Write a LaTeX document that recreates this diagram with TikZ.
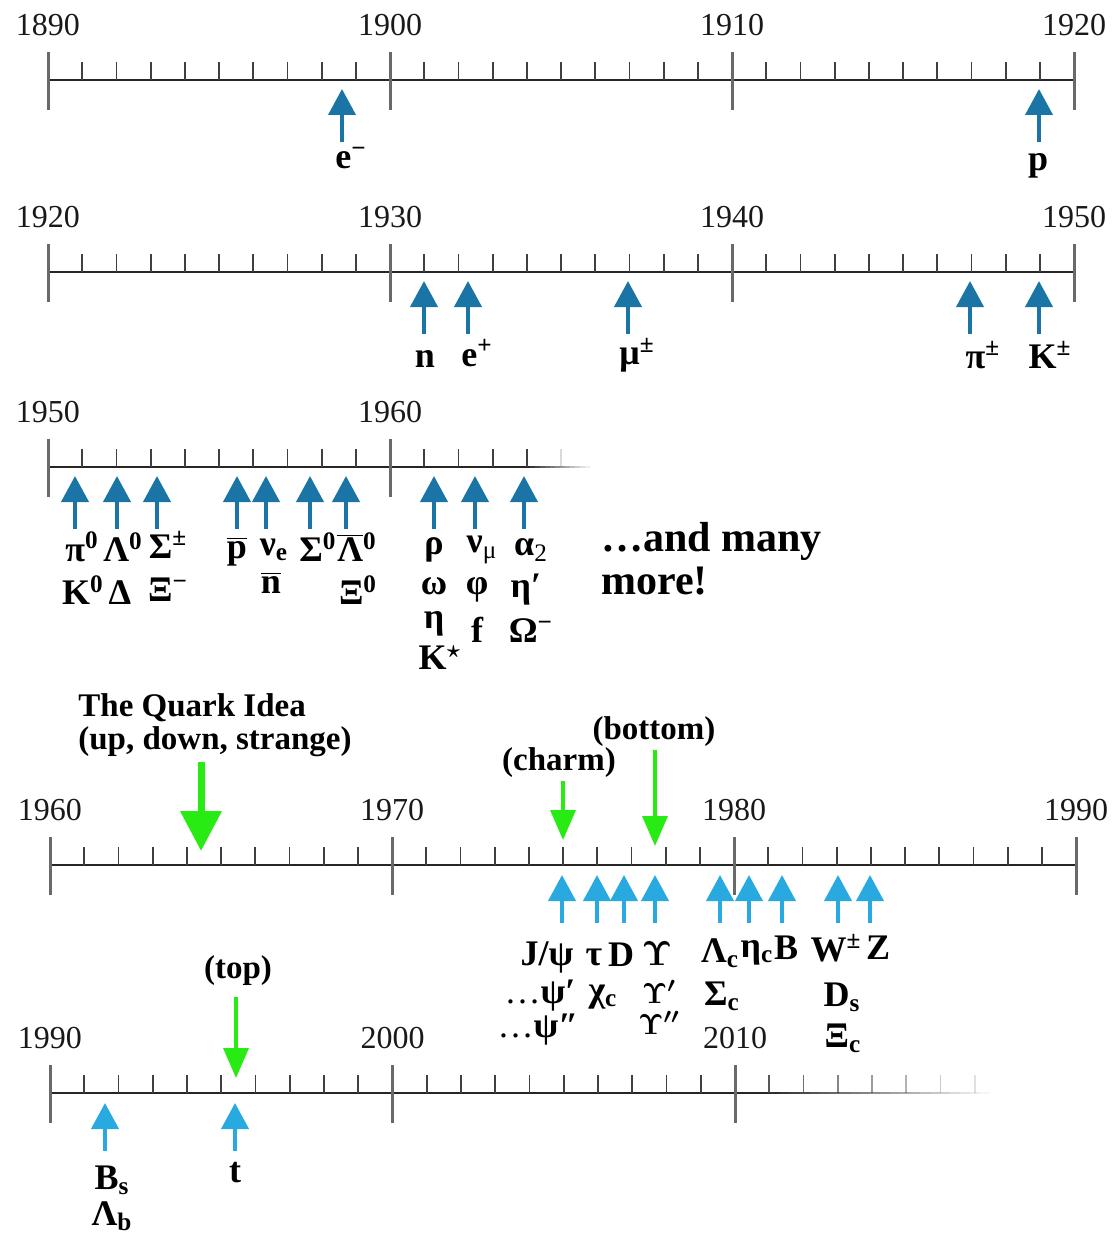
\documentclass[tikz,border=0pt]{standalone}
\usepackage{fontspec}
\setmainfont{Liberation Serif}
\usetikzlibrary{arrows.meta}

\definecolor{gristick}{RGB}{105,105,105}
\definecolor{azulosc}{RGB}{26,116,166}
\definecolor{azulcl}{RGB}{40,170,225}
\definecolor{verdef}{RGB}{40,235,20}

\tikzset{
  eje/.style={line width=1pt, draw=black!85},
  mayor/.style={line width=1.5pt, draw=gristick},
  menor/.style={line width=0.9pt, draw=black!75},
  anio/.style={font=\fontsize{16}{18}\selectfont, text=black!90, inner sep=0pt},
  part/.style={font=\fontsize{18}{20}\selectfont\bfseries\boldmath, inner sep=0pt},
  ypsilon/.style={font=\fontsize{#1}{20}\selectfont\boldmath, inner sep=0pt},
  titulo/.style={font=\fontsize{16.5}{19}\selectfont\bfseries, inner sep=0pt},
  grande/.style={font=\fontsize{21}{24}\selectfont\bfseries, inner sep=0pt},
  flecha/.style={line width=2pt, -{Triangle[length=13pt,width=13.5pt]}},
  verde/.style={draw=verdef, line width=1.8pt, -{Triangle[length=15pt,width=12.5pt]}},
  gruesa/.style={draw=verdef, line width=3.5pt, -{Triangle[length=20pt,width=20pt]}},
}

\begin{document}
\begin{tikzpicture}[x=0.5pt, y=-0.5pt]
  \useasboundingbox (0,0) rectangle (1115,1236);

  % Ejes completos: 1890-1920, 1920-1950, 1960-1990
  \foreach \Y/\xo/\a in {80/48/1890, 272/48/1920, 865/50/1960}{
    \draw[eje] (\xo,\Y) -- ({\xo+1026},\Y);
    \foreach \i in {1,...,29}
      \draw[menor] ({\xo+34.2*\i},{\Y-18}) -- ({\xo+34.2*\i},\Y);
    \foreach \k in {0,...,3}{
      \pgfmathtruncatemacro{\yr}{\a+10*\k}
      \draw[mayor] ({\xo+342*\k},{\Y-28}) -- ({\xo+342*\k},{\Y+30});
      \node[anio] (y\yr-\Y) at ({\xo+342*\k},{\Y-55}) {\yr};
    }
  }

  % Eje 1950-1965 (se desvanece)
  \draw[eje] (48,467) -- (530,467);
  \foreach \j in {0,...,11}{
    \pgfmathsetmacro{\op}{1-(\j+1)/13}
    \draw[eje, opacity=\op] ({530+5*\j},467) -- ({535+5*\j},467);
  }
  \foreach \i in {1,...,14}
    \draw[menor] ({48+34.2*\i},449) -- ({48+34.2*\i},467);
  \draw[menor, opacity=0.2] ({48+34.2*15},449) -- ({48+34.2*15},467);
  \foreach \k/\yr in {0/1950, 1/1960}{
    \draw[mayor] ({48+342*\k},439) -- ({48+342*\k},497);
    \node[anio] (y\yr-467) at ({48+342*\k},412) {\yr};
  }

  % Eje 1990-2017 (se desvanece)
  \draw[eje] (50,1093) -- (770,1093);
  \foreach \j in {0,...,21}{
    \pgfmathsetmacro{\op}{1-(\j+1)/23}
    \draw[eje, opacity=\op] ({770+10*\j},1093) -- ({780+10*\j},1093);
  }
  \foreach \i in {1,...,27}{
    \pgfmathsetmacro{\op}{min(1,1-(\i-20)*0.12)}
    \draw[menor, opacity=\op] ({50+34.25*\i},1075) -- ({50+34.25*\i},1093);
  }
  \foreach \k/\yr in {0/1990, 1/2000, 2/2010}{
    \draw[mayor] ({50+342.5*\k},1065) -- ({50+342.5*\k},1123);
    \node[anio] (y\yr-1093) at ({50+342.5*\k},1038) {\yr};
  }

  % Flechas azules (1890-1967)
  \foreach \x/\Y/\n in {342/80/e, 1039/80/p, 424/272/n, 468/272/ep,
      628/272/mu, 970/272/pi, 1039/272/K, 75/467/a, 117/467/b, 157/467/c,
      237/467/d, 266/467/f, 310/467/g, 346/467/h, 434/467/i, 475/467/j,
      524/467/k}{
    \coordinate (cola\n) at (\x,{\Y+62});
    \coordinate (punta\n) at (\x,{\Y+9});
    \draw[flecha, azulosc] (cola\n) -- (punta\n);
  }

  % Flechas celestes (1974-1995)
  \foreach \x/\Y/\n in {562/865/jpsi, 597/865/tau, 624/865/D, 655/865/ups,
      720/865/lc, 749/865/etac, 782/865/B, 838/865/W, 870/865/Z,
      105/1093/bs, 235/1093/t}{
    \coordinate (cola\n) at (\x,{\Y+58});
    \coordinate (punta\n) at (\x,{\Y+10});
    \draw[flecha, azulcl] (cola\n) -- (punta\n);
  }

  % Quarks (flechas verdes)
  \coordinate (colaQ) at (201,762);
  \coordinate (puntaQ) at (201,851);
  \draw[gruesa] (colaQ) -- (puntaQ);
  \foreach \x/\a/\b/\n in {563/781/840/charm, 655/750/846/bottom, 236/997/1078/top}{
    \coordinate (colaV\n) at (\x,\a);
    \coordinate (puntaV\n) at (\x,\b);
    \draw[verde] (colaV\n) -- (puntaV\n);
  }
  \node[titulo, anchor=base west] (idea) at (78,716) {The Quark Idea};
  \node[titulo, anchor=base west] (uds) at (78,749) {(up, down, strange)};
  \node[titulo, anchor=base] (charm) at (559,770) {(charm)};
  \node[titulo, anchor=base] (bottom) at (654,739) {(bottom)};
  \node[titulo, anchor=base] (top) at (238,978) {(top)};

  % Particulas 1890-1950
  \node[part] (le) at (351,158) {e\textsuperscript{−}};
  \node[part] (lp) at (1038,166) {p};
  \node[part] (ln) at (425,359) {n};
  \node[part] (lep) at (477,353) {e\textsuperscript{+}};
  \node[part] (lmu) at (637,355) {μ\textsuperscript{±}};
  \node[part] (lpi) at (983,355) {π\textsuperscript{±}};
  \node[part] (lK) at (1050,355) {K\textsuperscript{±}};

  % Particulas 1950-1965
  \node[part] (lpi0) at (82,547) {π\textsuperscript{0}};
  \node[part] (lK0) at (83,590) {K\textsuperscript{0}};
  \node[part] (lL0) at (123,547) {Λ\textsuperscript{0}};
  \node[part] (lD) at (120,593) {Δ};
  \node[part] (lS) at (168,545) {Σ\textsuperscript{±}};
  \node[part] (lX) at (168,590) {Ξ\textsuperscript{−}};
  \node[part] (lpb) at (237,552) {$\overline{\hbox{p}}$};
  \node[part] (lnue) at (274,550) {ν\textsubscript{e}};
  \node[part] (lnb) at (271,583) {$\overline{\hbox{n}}$};
  \node[part] (lS0) at (318,547) {Σ\textsuperscript{0}};
  \node[part] (lLb) at (357,547) {$\overline{\hbox{Λ}}$\textsuperscript{0}};
  \node[part] (lX0) at (358,590) {Ξ\textsuperscript{0}};
  \node[part] (lrho) at (434,550) {ρ};
  \node[part] (lome) at (434,586) {ω};
  \node[part] (leta) at (434,624) {η};
  \node[part] (lKs) at (440,658) {K\textsuperscript{$\star$}};
  \node[part] (lnum) at (482,550) {ν\textsubscript{\mdseries μ}};
  \node[part] (lphi) at (477,590) {φ};
  \node[part] (lf) at (477,630) {f};
  \node[part] (la2) at (531,550) {α\textsubscript{\mdseries 2}};
  \node[part] (letap) at (526,590) {η′};
  \node[part] (lOm) at (531,631) {Ω\textsuperscript{−}};
  \node[grande, anchor=base west] (mas1) at (601,551) {…and many};
  \node[grande, anchor=base west] (mas2) at (601,594) {more!};

  % Particulas 1974-1995
  \node[part] (ljpsi) at (547,957) {J/ψ};
  \node[part] (lpsi1) at (540,996) {{\mdseries …}ψ′};
  \node[part] (lpsi2) at (538,1030) {{\mdseries …}ψ″};
  \node[part] (ltau) at (594,957) {τ};
  \node[part] (lDD) at (621,955) {D};
  \node[part] (lchi) at (603,997) {χ\textsubscript{c}};
  \node[ypsilon=17] (lU) at (657,954) {$\Upsilon$};
  \node[ypsilon=15] (lU1) at (659,992) {$\Upsilon'$};
  \node[ypsilon=15] (lU2) at (659,1023) {$\Upsilon''$};
  \node[part] (lLc) at (720,953) {Λ\textsubscript{c}};
  \node[part] (letc) at (757,953) {η\textsubscript{c}};
  \node[part] (lB) at (786,948) {B};
  \node[part] (lSc) at (722,996) {Σ\textsubscript{c}};
  \node[part] (lW) at (836,948) {W\textsuperscript{±}};
  \node[part] (lZ) at (878,948) {Z};
  \node[part] (lDs) at (842,997) {D\textsubscript{s}};
  \node[part] (lXc) at (843,1038) {Ξ\textsubscript{c}};
  \node[part] (lBs) at (112,1180) {B\textsubscript{s}};
  \node[part] (lLb2) at (112,1216) {Λ\textsubscript{b}};
  \node[part] (ltop) at (235,1173) {t};

\end{tikzpicture}
\end{document}
